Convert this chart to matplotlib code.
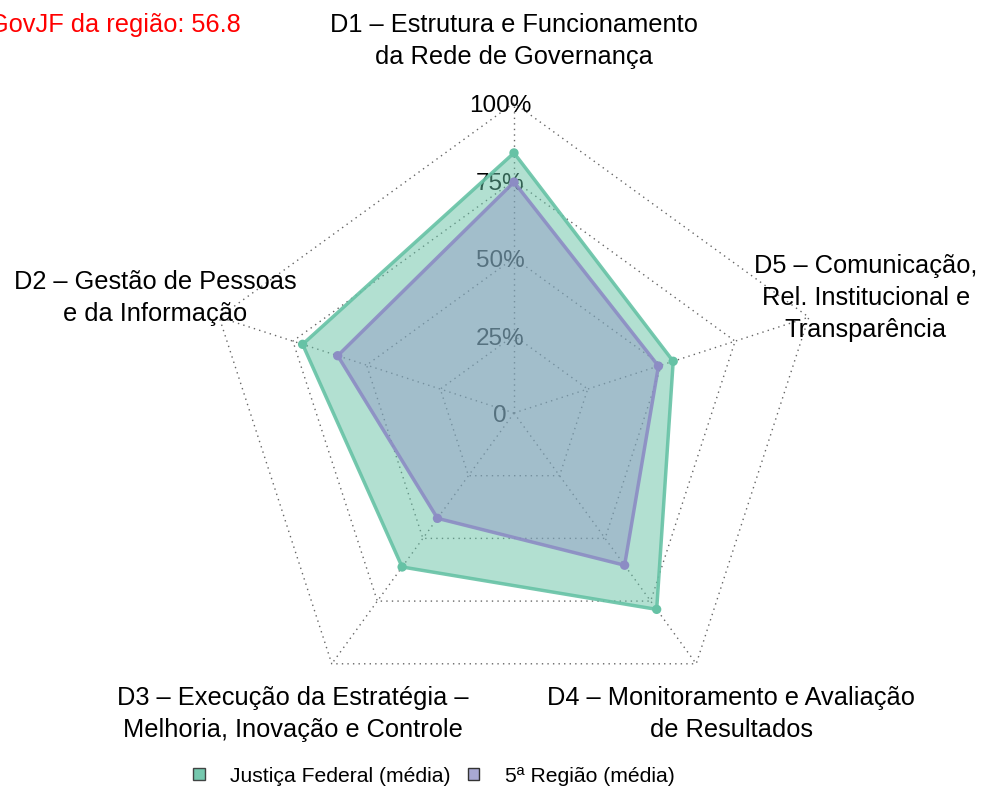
import numpy as np
import matplotlib.pyplot as plt
from matplotlib.patches import Patch

plt.rcParams['font.family'] = ['Liberation Sans', 'DejaVu Sans']

dimensions = ["D1 – Estrutura e Funcionamento\nda Rede de Governança",
              "D2 – Gestão de Pessoas\ne da Informação",
              "D3 – Execução da Estratégia –\nMelhoria, Inovação e Controle",
              "D4 – Monitoramento e Avaliação\nde Resultados",
              "D5 – Comunicação,\nRel. Institucional e\nTransparência"]
justica_federal = [83.9, 71.7, 61.4, 78.3, 54.0]
regiao5 = [74.5, 59.8, 42.0, 60.7, 49.0]
levels = [0, 25, 50, 75, 100]
level_labels = ["0", "25%", "50%", "75%", "100%"]
igov = 56.8

green = "#66C2A5"
purple = "#8C8CC4"

n = len(dimensions)
ang = np.pi / 2 + np.arange(n) * 2 * np.pi / n

fig = plt.figure(figsize=(9.84, 7.9), dpi=100)
ax = fig.add_axes([0, 0, 1, 1])
R = 310.0
ax.set_xlim(-514 / R, (984 - 514) / R)
ax.set_ylim(-377 / R, 413 / R)
ax.axis('off')

# grid
for lv in levels[1:]:
    r = lv / 100
    xs = np.append(r * np.cos(ang), r * np.cos(ang[0]))
    ys = np.append(r * np.sin(ang), r * np.sin(ang[0]))
    ax.plot(xs, ys, ls=(0, (1, 3)), color="#666666", lw=1, zorder=1)
for a in ang:
    ax.plot([0, np.cos(a)], [0, np.sin(a)], ls=(0, (1, 3)), color="#666666", lw=1, zorder=1)

for lv, lab in zip(levels, level_labels):
    ax.text(-0.045, lv / 100 - 0.01, lab, ha='center', va='center', fontsize=17.5, zorder=2)

# series
for vals, col, fa in [(justica_federal, green, 0.5), (regiao5, purple, 0.4)]:
    r = np.array(vals) / 100
    xs = r * np.cos(ang)
    ys = r * np.sin(ang)
    ax.fill(xs, ys, color=col, alpha=fa, lw=0, zorder=3)
    ax.plot(np.append(xs, xs[0]), np.append(ys, ys[0]), color=col, lw=2.5, alpha=0.9, zorder=4)
    ax.scatter(xs, ys, s=45, color=col, zorder=5, edgecolor='none')

# dimension labels
lab_pos = [(0.0, 1.2), (-1.158, 0.371), (-0.713, -0.971), (0.70, -0.971), (1.135, 0.371)]
for txt, (x, y) in zip(dimensions, lab_pos):
    ax.text(x, y, txt, ha='center', va='center', fontsize=18.3, linespacing=1.4, zorder=6)

fig.text(241 / 984, 1 - 25 / 790, f"IGovJF da região: {igov}", color='red',
         ha='right', va='center', fontsize=18.3)

handles = [Patch(facecolor=green, edgecolor='#333333', alpha=0.9, lw=1),
           Patch(facecolor="#A9A9D3", edgecolor='#333333', lw=1)]
fig.legend(handles, ["Justiça Federal (média)", "5ª Região (média)"], ncol=2,
           loc='center', bbox_to_anchor=(434 / 984, 1 - 776 / 790), frameon=False,
           fontsize=15.2, handlelength=0.55, handleheight=0.55, columnspacing=0.8,
           handletextpad=1.2)

fig.savefig("out.png", dpi=100)
